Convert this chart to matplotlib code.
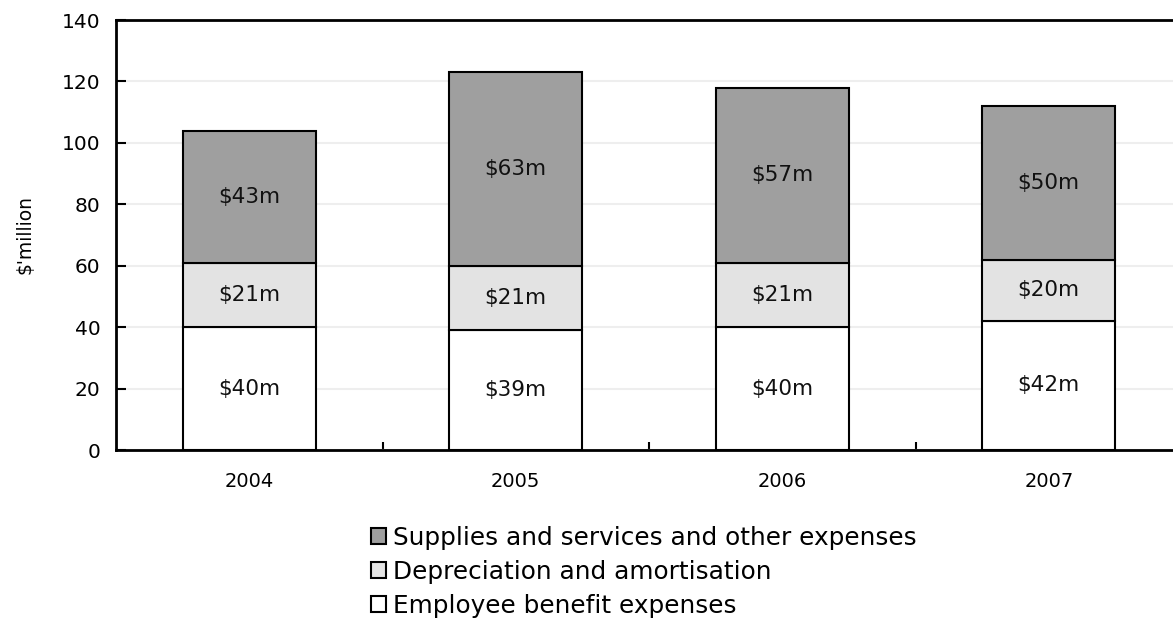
import numpy as np
import matplotlib.pyplot as plt

years = ['2004', '2005', '2006', '2007']
employee = [40, 39, 40, 42]
depreciation = [21, 21, 21, 20]
supplies = [43, 63, 57, 50]

series_names = ['Employee benefit expenses',
                'Depreciation and amortisation',
                'Supplies and services and other expenses']
series_colors = ['#ffffff', '#e3e3e3', '#9f9f9f']

plt.rcParams['font.family'] = ['DejaVu Sans']

fig = plt.figure(figsize=(11.73, 6.19), dpi=100)
# axes run a little past the right edge, so the right border is cut off
ax = fig.add_axes([116 / 1173, 169 / 619, 1066 / 1173, 430 / 619])

x = np.arange(len(years))
bottom = np.zeros(len(years))
for values, name, color in zip([employee, depreciation, supplies], series_names, series_colors):
    vals = np.array(values, dtype=float)
    ax.bar(x, vals, width=0.5, bottom=bottom, color=color, edgecolor='black',
           linewidth=1.5, label=name, zorder=3)
    for xi, b, v in zip(x, bottom, vals):
        ax.text(xi, b + v / 2, f'${v:.0f}m', ha='center', va='center',
                fontsize=15.5, color='#111111', zorder=4)
    bottom += vals

ax.set_xlim(-0.5, 3.5)
ax.set_ylim(0, 140)
ax.set_yticks(range(0, 141, 20))
ax.yaxis.grid(True, color='#eeeeee', linewidth=1.5, zorder=0)
ax.set_axisbelow(True)

ax.set_xticks(x)
ax.set_xticklabels(years)
ax.set_xticks([0.5, 1.5, 2.5], minor=True)
ax.tick_params(axis='x', which='major', length=0, pad=16, labelsize=14)
ax.tick_params(axis='x', which='minor', direction='in', length=6, width=1.5)
ax.tick_params(axis='y', direction='in', length=7, width=1.5, pad=11, labelsize=14.5)

for side in ['left', 'top', 'bottom', 'right']:
    ax.spines[side].set_linewidth(2)

ax.set_ylabel("$'million", fontsize=13.5, labelpad=20)

handles, labels = ax.get_legend_handles_labels()
ax.legend(handles[::-1], labels[::-1], loc='upper left',
          bbox_to_anchor=(361 / 1173, 103 / 619), bbox_transform=fig.transFigure,
          frameon=False, fontsize=17.8, handlelength=0.6, handleheight=0.6,
          handletextpad=0.3, labelspacing=0.4, borderaxespad=0)

fig.savefig('out.png', dpi=100)
plt.close(fig)
